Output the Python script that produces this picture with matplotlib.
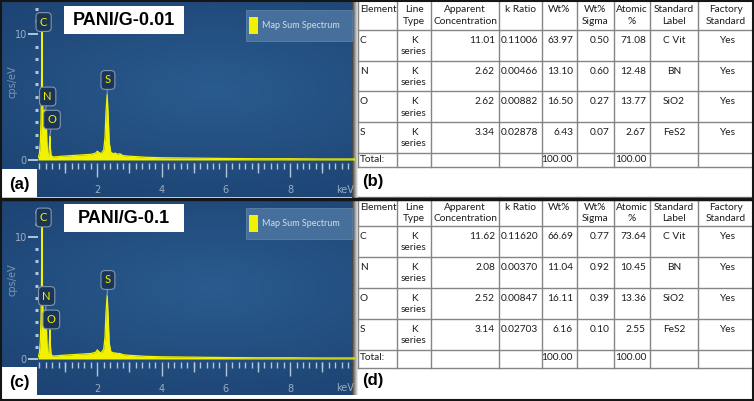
import numpy as np
import matplotlib.pyplot as plt
from matplotlib.patches import Rectangle
from matplotlib.colors import LinearSegmentedColormap

# ---- spectrum data (keV vs cps/eV) ----
energy = [0.16, 0.20, 0.23, 0.25, 0.265, 0.277, 0.29, 0.31, 0.33, 0.355, 0.375, 0.392,
          0.41, 0.43, 0.45, 0.47, 0.49, 0.51, 0.525, 0.54, 0.56, 0.60, 0.70, 0.90,
          1.20, 1.50, 1.80, 1.95, 2.00, 2.05, 2.12, 2.20, 2.24, 2.27, 2.307, 2.34,
          2.37, 2.42, 2.50, 2.56, 2.62, 2.70, 2.80, 3.00, 3.50, 4.00, 5.00, 6.00,
          7.00, 8.00, 9.00, 10.0]
counts_a = [0.2, 0.5, 1.5, 3.2, 6.0, 10.3, 5.5, 3.6, 3.7, 3.9, 4.0, 4.0,
            3.6, 1.5, 0.5, 0.3, 0.4, 1.2, 1.9, 1.0, 0.4, 0.25, 0.25, 0.3,
            0.35, 0.4, 0.45, 0.55, 0.7, 0.6, 0.5, 0.8, 1.8, 3.8, 5.2, 3.4,
            1.4, 0.6, 0.5, 0.55, 0.45, 0.5, 0.35, 0.3, 0.22, 0.18, 0.15, 0.12,
            0.1, 0.1, 0.08, 0.08]
counts_c = [0.2, 0.5, 1.6, 3.4, 6.5, 11.1, 5.8, 3.7, 3.8, 3.9, 4.0, 4.0,
            3.6, 1.5, 0.5, 0.3, 0.5, 1.5, 2.4, 1.2, 0.4, 0.25, 0.25, 0.3,
            0.35, 0.4, 0.45, 0.55, 0.75, 0.6, 0.5, 0.8, 1.8, 3.8, 5.2, 3.3,
            1.3, 0.6, 0.5, 0.5, 0.45, 0.45, 0.35, 0.3, 0.22, 0.18, 0.15, 0.12,
            0.1, 0.1, 0.08, 0.08]
peak_names = ['C', 'N', 'O', 'S']
peak_energy = [0.277, 0.392, 0.525, 2.307]

# ---- quantification tables ----
headers = ['Element', 'Line\nType', 'Apparent\nConcentration', 'k Ratio', 'Wt%',
           'Wt%\nSigma', 'Atomic\n%', 'Standard\nLabel', 'Factory\nStandard']
elements = ['C', 'N', 'O', 'S']
std_label = ['C Vit', 'BN', 'SiO2', 'FeS2']
app_b = [11.01, 2.62, 2.62, 3.34]
kratio_b = [0.11006, 0.00466, 0.00882, 0.02878]
wt_b = [63.97, 13.10, 16.50, 6.43]
sigma_b = [0.50, 0.60, 0.27, 0.07]
atomic_b = [71.08, 12.48, 13.77, 2.67]
app_d = [11.62, 2.08, 2.52, 3.14]
kratio_d = [0.11620, 0.00370, 0.00847, 0.02703]
wt_d = [66.69, 11.04, 16.11, 6.16]
sigma_d = [0.77, 0.92, 0.39, 0.10]
atomic_d = [73.64, 10.45, 13.36, 2.55]

W, H = 754, 401
YELLOW = '#f2f200'
TICK = '#b3c5d9'
fig = plt.figure(figsize=(W / 100, H / 100), dpi=100)
bg = fig.add_axes([0, 0, 1, 1])
bg.set_zorder(0)

blue = LinearSegmentedColormap.from_list('panel', ['#1d4474', '#2a5b8e'])
gx, gy = np.meshgrid(np.linspace(-1, 1, 200), np.linspace(-1, 1, 120))
grad = 1 - np.clip(np.sqrt(((gx - 0.2) * 0.6) ** 2 + ((gy + 0.1) * 0.8) ** 2), 0, 1)
shade = LinearSegmentedColormap.from_list('sh', ['#3c3c3c', '#f2f2f2'])


def add_ax(left, right, top, bottom):
    return fig.add_axes([left / W, 1 - bottom / H, (right - left) / W, (bottom - top) / H])


def spectrum_panel(y0, counts, title, tag, ymap, labels):
    # y0: top pixel of panel, ymap: (pixel of zero, pixels per unit)
    bg.imshow(grad, cmap=blue, extent=[2, 355, y0 + 195, y0], aspect='auto', zorder=0)
    zero, ppu = ymap
    ax = add_ax(38, 355, y0 + 3, zero + 3)
    ax.set_xlim((38 - 33) / 32.15, (355 - 33) / 32.15)
    ax.set_ylim(-3 / ppu, (zero - y0 - 3) / ppu)
    ax.patch.set_visible(False)
    for s in ax.spines.values():
        s.set_visible(False)
    ax.fill_between(energy, counts, 0, color=YELLOW, lw=0)
    ax.plot(energy, counts, color=YELLOW, lw=0.9)
    ax.set_xticks([2, 4, 6, 8])
    ax.set_xticks(np.arange(0.2, 9.9, 0.2), minor=True)
    ax.set_yticks([0, 10])
    ax.set_yticks([v for v in range(1, 13) if v != 10], minor=True)
    ax.tick_params(axis='x', which='major', length=10, width=1, color=TICK,
                   labelcolor='#9aaec4', labelsize=7, pad=6)
    ax.tick_params(axis='x', which='minor', length=4, width=1, color=TICK)
    ax.tick_params(axis='y', which='major', length=7, width=1.4, color=TICK,
                   labelcolor='#9aaec4', labelsize=7, pad=1)
    ax.tick_params(axis='y', which='minor', length=2.2, width=2.2, color=TICK)
    sec = ax.secondary_xaxis('bottom')
    sec.set_xticks([1, 3, 5, 7, 9])
    sec.tick_params(length=7, width=1, color=TICK, labelbottom=False)
    for s in sec.spines.values():
        s.set_visible(False)
    for name, e, (lx, ly) in zip(peak_names, peak_energy, labels):
        pv = np.interp(e, energy, counts)
        ax.annotate(name, xy=(e, pv), xytext=(lx, ly), ha='center', va='center',
                    color=YELLOW, fontsize=8, family='Lato',
                    bbox=dict(boxstyle='round,pad=0.35', fc='#1b3558', ec='#8396ad', lw=0.8),
                    arrowprops=dict(arrowstyle='-', color='#8396ad', lw=0.8,
                                    shrinkA=0, shrinkB=0))
    bg.text(13, y0 + 80, 'cps/eV', rotation=90, ha='center', va='center',
            color='#7f97b3', fontsize=7)
    bg.text(345, y0 + 188, 'keV', ha='center', va='center', color='#9aaec4', fontsize=7)
    # title and panel tag
    bg.add_patch(Rectangle((64, y0 + 4), 120, 28, fc='white', ec='none', zorder=2))
    bg.text(124, y0 + 18.5, title, ha='center', va='center', fontsize=13,
            weight='bold', family='Liberation Sans', zorder=3)
    bg.add_patch(Rectangle((2, y0 + 167), 35, 30, fc='white', ec='none', zorder=2))
    bg.text(19.5, y0 + 182.5, tag, ha='center', va='center', fontsize=12,
            weight='bold', family='Liberation Sans', zorder=3)
    # legend
    bg.add_patch(Rectangle((246, y0 + 8), 106, 31, fc='#46709b', ec='#5b82aa',
                           lw=0.6, zorder=2))
    bg.add_patch(Rectangle((249, y0 + 15), 8.5, 17, fc=YELLOW, ec='none', zorder=3))
    bg.text(262, y0 + 23.5, 'Map Sum Spectrum', ha='left', va='center',
            color='#d5dde6', fontsize=6.5, family='Lato', zorder=3)


spectrum_panel(2, counts_a, 'PANI/G-0.01', '(a)', (160, 12.6),
               [(0.33, 10.95), (0.457, 5.04), (0.59, 3.2), (2.33, 6.35)])
spectrum_panel(200, counts_c, 'PANI/G-0.1', '(c)', (359, 12.23),
               [(0.33, 11.57), (0.425, 5.15), (0.57, 3.23), (2.33, 6.46)])

col_x = [358, 397, 431, 499, 542, 577, 614, 650, 698, 753]
TXT = '#1c1c1c'
LINE = '#858585'


def table_panel(y0, head_h, row_h, tot_h, app, kr, wt, sg, at, tag):
    bg.add_patch(Rectangle((358, y0), 395, 198, fc='white', ec='none', zorder=1))
    bg.imshow(np.linspace(0, 1, 20)[None, :], cmap=shade,
              extent=[352, 358, y0 + 198, y0], aspect='auto', zorder=1)
    rows = [y0] + [y0 + head_h + i * row_h for i in range(5)]
    total_bot = rows[-1] + tot_h
    for yy in rows + [total_bot]:
        bg.plot([358, 753], [yy, yy], color=LINE, lw=1, zorder=2)
    for xx in col_x:
        bg.plot([xx, xx], [y0, total_bot], color=LINE, lw=1, zorder=2)
    kw = dict(fontsize=7.3, color=TXT, family='Lato', va='top', linespacing=1.3, zorder=3)
    for j, h in enumerate(headers):
        if j == 0:
            bg.text(col_x[0] + 2, y0 + 5.5, h, ha='left', **kw)
        else:
            bg.text((col_x[j] + col_x[j + 1]) / 2, y0 + 5.5, h, ha='center', ma='center', **kw)
    for i in range(4):
        ty = rows[i + 1] + 6
        cells = [f'{app[i]:.2f}', f'{kr[i]:.5f}', f'{wt[i]:.2f}', f'{sg[i]:.2f}', f'{at[i]:.2f}']
        bg.text(col_x[0] + 2, ty, elements[i], ha='left', **kw)
        bg.text((col_x[1] + col_x[2]) / 2, ty, 'K\nseries', ha='center', ma='center', **kw)
        for j, c in enumerate(cells):
            bg.text(col_x[j + 3] - 4, ty, c, ha='right', **kw)
        bg.text((col_x[7] + col_x[8]) / 2, ty, std_label[i], ha='center', **kw)
        bg.text((col_x[8] + col_x[9]) / 2 + 2, ty, 'Yes', ha='center', **kw)
    ty = rows[5] + 2.5
    bg.text(col_x[0] + 2, ty, 'Total:', ha='left', **kw)
    bg.text(col_x[5] - 4, ty, f'{sum(wt):.2f}', ha='right', **kw)
    bg.text(col_x[7] - 4, ty, f'{sum(at):.2f}', ha='right', **kw)
    bg.text(362, (total_bot + y0 + 196) / 2, tag, ha='left', va='center', fontsize=12,
            weight='bold', family='Liberation Sans', zorder=3)


table_panel(0, 30, 30.7, 14.6, app_b, kratio_b, wt_b, sigma_b, atomic_b, '(b)')
table_panel(197, 28.7, 31.1, 18, app_d, kratio_d, wt_d, sigma_d, atomic_d, '(d)')

# frame lines
bg.plot([0, W], [198.5, 198.5], color='#151515', lw=2.5, zorder=4)
bg.add_patch(Rectangle((0.75, 0.75), W - 1.5, H - 1.5, fill=False, ec='#151515', lw=1.5, zorder=4))
bg.set_xlim(0, W)
bg.set_ylim(H, 0)
bg.axis('off')

fig.savefig('out.png', dpi=100)
